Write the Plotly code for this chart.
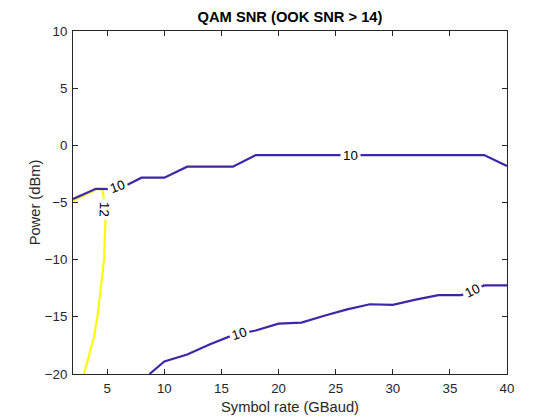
import plotly.graph_objects as go

# contour level 10 (upper branch)
x_upper = [2, 4, 6, 8, 10, 12, 14, 16, 18, 20, 22, 24, 26, 28, 30, 32, 34, 36, 38, 40]
y_upper = [-4.7, -3.8, -3.83, -2.83, -2.83, -1.87, -1.87, -1.87, -0.85, -0.85, -0.82,
           -0.85, -0.85, -0.85, -0.85, -0.85, -0.85, -0.85, -0.85, -1.81]

# contour level 10 (lower branch)
x_lower = [8.7, 10, 12, 14, 16, 18, 20, 22, 24, 26, 28, 30, 32, 34, 36, 38, 40]
y_lower = [-20, -18.9, -18.3, -17.4, -16.6, -16.2, -15.6, -15.5, -14.9, -14.35,
           -13.9, -13.95, -13.5, -13.1, -13.1, -12.25, -12.25]

# contour level 12
x_12 = [2, 4.08, 4.55, 4.66, 4.75, 4.84, 4.72, 4.52, 4.14, 3.85, 2.97]
y_12 = [-4.84, -3.84, -3.84, -4.34, -5.5, -6.53, -10, -11.76, -15, -16.7, -20]

# contour labels: text, x, y, angle
lbl_text = ["10", "12", "10", "10", "10"]
lbl_x = [5.9, 4.75, 26.3, 16.6, 37.0]
lbl_y = [-3.6, -5.6, -0.85, -16.5, -12.7]
lbl_ang = [-20, 92, 0, -18, -27]

blue = "#3e26a8"
yellow = "#f9fb0e"
ink = "#262626"
fnt = "Liberation Sans, Arial, Helvetica"

fig = go.Figure()
fig.add_trace(go.Scatter(x=x_12, y=y_12, mode="lines", line=dict(color=yellow, width=2.2)))
fig.add_trace(go.Scatter(x=x_upper, y=y_upper, mode="lines", line=dict(color=blue, width=2.2)))
fig.add_trace(go.Scatter(x=x_lower, y=y_lower, mode="lines", line=dict(color=blue, width=2.2)))

for t, xx, yy, a in zip(lbl_text, lbl_x, lbl_y, lbl_ang):
    fig.add_annotation(x=xx, y=yy, text=t, showarrow=False, textangle=a,
                       bgcolor="white", borderpad=2,
                       font=dict(family=fnt, size=13.3, color="black"))

fig.update_layout(
    width=560, height=420,
    margin=dict(l=65, r=61, t=23, b=54),
    paper_bgcolor="white", plot_bgcolor="white",
    showlegend=False,
    font=dict(family=fnt, size=13.3, color=ink),
    title=dict(text="<b>QAM SNR (OOK SNR > 14)</b>", x=0.5, xanchor="center",
               xref="paper", yref="container", y=0.979, yanchor="middle",
               font=dict(size=14.7, color="black")),
)
fig.update_xaxes(range=[2, 40], tickvals=[5, 10, 15, 20, 25, 30, 35, 40],
                 ticks="inside", ticklen=5, tickcolor=ink, showline=True,
                 linecolor=ink, linewidth=1, mirror="ticks", showgrid=False,
                 zeroline=False, ticklabelstandoff=2,
                 title=dict(text="Symbol rate (GBaud)", standoff=6, font=dict(size=14.7)))
fig.update_yaxes(range=[-20, 10], tickvals=[-20, -15, -10, -5, 0, 5, 10],
                 ticks="inside", ticklen=5, tickcolor=ink, showline=True,
                 linecolor=ink, linewidth=1, mirror="ticks", showgrid=False,
                 zeroline=False, ticklabelstandoff=2,
                 title=dict(text="Power (dBm)", standoff=0, font=dict(size=14.7)))

fig.write_html("out.html")
